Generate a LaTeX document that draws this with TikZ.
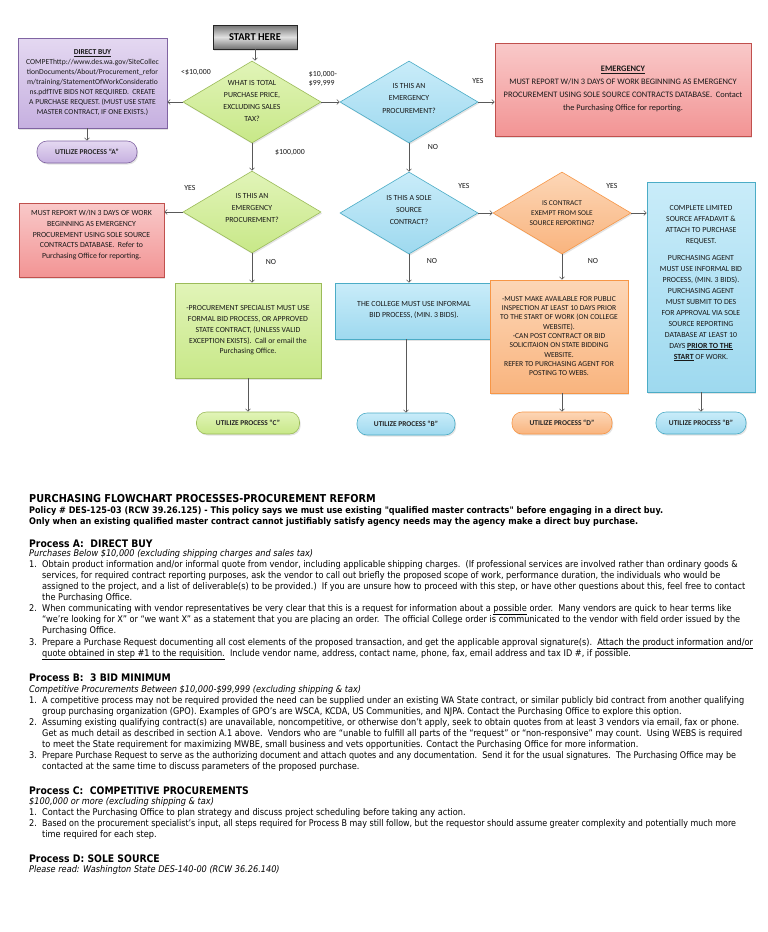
\documentclass[tikz,border=0pt]{standalone}
\usepackage{fontspec}
\setmainfont{Carlito}
\newfontfamily\bodyf[FakeStretch=0.89]{DejaVu Sans}
\usetikzlibrary{shapes.geometric,arrows.meta,shadows}
\definecolor{gB}{HTML}{9BBB59}\definecolor{gT}{HTML}{E1F4B8}\definecolor{gD}{HTML}{C8E888}
\definecolor{bB}{HTML}{4BACC6}\definecolor{bT}{HTML}{C9ECF9}\definecolor{bD}{HTML}{9ED9EF}
\definecolor{oB}{HTML}{F79646}\definecolor{oT}{HTML}{FCD6B6}\definecolor{oD}{HTML}{F9B47E}
\definecolor{rB}{HTML}{C0504D}\definecolor{rT}{HTML}{F9C9C9}\definecolor{rD}{HTML}{F29494}
\definecolor{pB}{HTML}{8064A2}\definecolor{pT}{HTML}{E4D8F1}\definecolor{pD}{HTML}{C6B0E0}
\newcommand\itm[1]{\makebox[13pt][l]{#1}}
\begin{document}
\begin{tikzpicture}[x=1pt,y=-1pt,
  fct/.style={align=center, inner sep=0pt, text=black!90, font=\fontsize{7.8}{10.7}\selectfont},
  shp/.style={draw, line width=0.6pt, inner sep=0pt, drop shadow={opacity=0.22,shadow xshift=1.2pt,shadow yshift=-1.5pt}},
  grn/.style={shp, draw=gB, top color=gT, bottom color=gD},
  blu/.style={shp, draw=bB, top color=bT, bottom color=bD},
  org/.style={shp, draw=oB, top color=oT, bottom color=oD},
  red/.style={shp, draw=rB, top color=rT, bottom color=rD},
  pur/.style={shp, draw=pB, top color=pT, bottom color=pD},
  dia/.style={diamond, minimum width=138pt, minimum height=82pt},
  pill/.style={rounded corners=10pt, minimum height=22pt, font=\bfseries\fontsize{7.4}{8}\selectfont, text=black!85},
  arr/.style={draw=black!65, line width=0.6pt, -{Straight Barb[length=2.5pt,width=5pt]}},
  lbl/.style={inner sep=0pt, text=black!90, font=\fontsize{7.8}{9.5}\selectfont, align=left},
  bt/.style={anchor=base west, inner sep=0pt, text=black, font=\bodyf\fontsize{9.2}{10}\selectfont},
  bb/.style={bt, font=\bodyf\bfseries\fontsize{9.1}{10}\selectfont},
  bh/.style={bt, font=\bodyf\bfseries\fontsize{10.4}{12}\selectfont},
  bti/.style={bt, font=\bodyf\bfseries\fontsize{10.9}{12}\selectfont},
  bi/.style={bt, font=\bodyf\itshape\fontsize{9.2}{10}\selectfont}
]
\useasboundingbox[fill=white] (0,0) rectangle (768,932);

% ---------- shapes ----------
\node[shp, draw=black!85, top color=black!55, bottom color=black!55, middle color=black!12,
      minimum width=84pt, minimum height=24pt, font=\bfseries\fontsize{10.5}{12}\selectfont] (start) at (255,37) {START HERE};

\node[grn, dia] (d1) at (252,102) {};
\node[fct, font=\fontsize{7.8}{12}\selectfont] (d1t) at (252,101) {WHAT IS TOTAL\\PURCHASE PRICE,\\EXCLUDING SALES\\TAX?};

\node[blu, dia] (d2) at (409,102) {};
\node[fct, font=\fontsize{7.8}{12.5}\selectfont] (d2t) at (409,98) {IS THIS AN\\EMERGENCY\\PROCUREMENT?};

\node[red, minimum width=256pt, minimum height=93pt] (emerg) at (623,89.5) {};
\node[fct, font=\fontsize{8.4}{13}\selectfont] (emergt) at (623,89) {\underline{\textbf{EMERGENCY}}\\MUST REPORT W/IN 3 DAYS OF WORK BEGINNING AS EMERGENCY\\PROCUREMENT USING SOLE SOURCE CONTRACTS DATABASE.\ \ Contact\\the Purchasing Office for reporting.};

\node[pur, minimum width=149pt, minimum height=90pt] (direct) at (92.5,83) {};
\node[fct, font=\fontsize{7.6}{10}\selectfont] (directt) at (92.5,82.5) {\underline{\textbf{DIRECT BUY}}\\COMPEThttp://www.des.wa.gov/SiteCollec\\tionDocuments/About/Procurement\_refor\\m/training/StatementOfWorkConsideratio\\ns.pdfTIVE BIDS NOT REQUIRED.\ \ CREATE\\A PURCHASE REQUEST. (MUST USE STATE\\MASTER CONTRACT, IF ONE EXISTS.)};

\node[pur, pill, minimum width=100pt] (pillA) at (87,152) {UTILIZE PROCESS “A”};

\node[grn, dia] (d3) at (252,212) {};
\node[fct, font=\fontsize{7.8}{12.3}\selectfont] (d3t) at (252,208) {IS THIS AN\\EMERGENCY\\PROCUREMENT?};

\node[red, minimum width=145pt, minimum height=74pt] (red2) at (91.5,240) {};
\node[fct] (red2t) at (91.5,235) {MUST REPORT W/IN 3 DAYS OF WORK\\BEGINNING AS EMERGENCY\\PROCUREMENT USING SOLE SOURCE\\CONTRACTS DATABASE.\ \ Refer to\\Purchasing Office for reporting.};

\node[grn, minimum width=146pt, minimum height=95pt] (grect) at (248,330.5) {};
\node[fct] (grectt) at (248,330.5) {-PROCUREMENT SPECIALIST MUST USE\\FORMAL BID PROCESS, OR APPROVED\\STATE CONTRACT, (UNLESS VALID\\EXCEPTION EXISTS).\ \ Call or email the\\Purchasing Office.};

\node[grn, pill, minimum width=103pt] (pillC) at (248,423) {UTILIZE PROCESS “C”};

\node[blu, dia] (d4) at (409,213) {};
\node[fct, font=\fontsize{7.8}{12}\selectfont] (d4t) at (409,210) {IS THIS A SOLE\\SOURCE\\CONTRACT?};

\node[blu, minimum width=158pt, minimum height=56pt] (brect) at (414,311) {};
\node[fct] (brectt) at (414,310) {THE COLLEGE MUST USE INFORMAL\\BID PROCESS, (MIN. 3 BIDS).};

\node[blu, pill, minimum width=98pt] (pillB) at (406,424) {UTILIZE PROCESS “B”};

\node[org, dia] (d5) at (562,213) {};
\node[fct, font=\fontsize{7.4}{10}\selectfont] (d5t) at (562,213) {IS CONTRACT\\EXEMPT FROM SOLE\\SOURCE REPORTING?};

\node[org, minimum width=138pt, minimum height=113pt] (orect) at (559,336.5) {};
\node[fct, font=\fontsize{7.6}{9.3}\selectfont] (orectt) at (559,336) {-MUST MAKE AVAILABLE FOR PUBLIC\\INSPECTION AT LEAST 10 DAYS PRIOR\\TO THE START OF WORK (ON COLLEGE\\WEBSITE).\\-CAN POST CONTRACT OR BID\\SOLICITAION ON STATE BIDDING\\WEBSITE.\\REFER TO PURCHASING AGENT FOR\\POSTING TO WEBS.};

\node[org, pill, minimum width=100pt] (pillD) at (562,423) {UTILIZE PROCESS “D”};

\node[blu, minimum width=108pt, minimum height=210pt] (rrect) at (701,287) {};
\node[fct, font=\fontsize{7.8}{11}\selectfont] (rrectt) at (701,283) {COMPLETE LIMITED\\SOURCE AFFADAVIT \&\\ATTACH TO PURCHASE\\REQUEST.\\[6pt]PURCHASING AGENT\\MUST USE INFORMAL BID\\PROCESS, (MIN. 3 BIDS).\\PURCHASING AGENT\\MUST SUBMIT TO DES\\FOR APPROVAL VIA SOLE\\SOURCE REPORTING\\DATABASE AT LEAST 10\\DAYS \underline{\textbf{PRIOR TO THE}}\\\underline{\textbf{START}} OF WORK.};

\node[blu, pill, minimum width=90pt] (pillB2) at (701,423) {UTILIZE PROCESS “B”};

% ---------- connectors ----------
\draw[arr] (start.south) -- (start.south |- d1.north);
\draw[arr] (d1.west) -- (d1.west -| direct.east);
\draw[arr] (d1.east) -- (d2.west);
\draw[arr] (d2.east) -- (d2.east -| emerg.west);
\draw[arr] (pillA.north |- direct.south) -- (pillA.north);
\draw[arr] (d1.south) -- (d3.north);
\draw[arr] (d2.south) -- (d4.north);
\draw[arr] (d3.west) -- (d3.west -| red2.east);
\draw[arr] (d3.south) -- (d3.south |- grect.north);
\draw[arr] (pillC.north |- grect.south) -- (pillC.north);
\draw[arr] (d4.south) -- (d4.south |- brect.north);
\draw[arr] (pillB.north |- brect.south) -- (pillB.north);
\draw[arr] (d4.east) -- (d5.west);
\draw[arr] (d5.south) -- (d5.south |- orect.north);
\draw[arr] (pillD.north |- orect.south) -- (pillD.north);
\draw[arr] (d5.east) -- (d5.east -| rrect.west);
\draw[arr] (pillB2.north |- rrect.south) -- (pillB2.north);

% ---------- labels ----------
\node[lbl] (l1) at (196,72) {<\$10,000};
\node[lbl] (l2) at (323,79) {\$10,000-\\\$99,999};
\node[lbl] (l3) at (290,152) {\$100,000};
\node[lbl] (l4) at (478,81) {YES};
\node[lbl] (l5) at (433,147) {NO};
\node[lbl] (l6) at (190,188) {YES};
\node[lbl] (l7) at (271,262) {NO};
\node[lbl] (l8) at (464,186) {YES};
\node[lbl] (l9) at (432,261) {NO};
\node[lbl] (l10) at (612,186) {YES};
\node[lbl] (l11) at (593,261) {NO};

% ---------- body text ----------
\node[bti] (t1) at (29,502) {PURCHASING FLOWCHART PROCESSES-PROCUREMENT REFORM};
\node[bb] (t2) at (29,513) {Policy \# DES-125-03 (RCW 39.26.125) - This policy says we must use existing "qualified master contracts" before engaging in a direct buy.};
\node[bb] (t3) at (29,524) {Only when an existing qualified master contract cannot justifiably satisfy agency needs may the agency make a direct buy purchase.};
\node[bh] (t4) at (29,547) {Process A:\ \ DIRECT BUY};
\node[bi] (t5) at (29,556) {Purchases Below \$10,000 (excluding shipping charges and sales tax)};
\node[bt] (t6) at (29,567) {\itm{1.}Obtain product information and/or informal quote from vendor, including applicable shipping charges.\ \ (If professional services are involved rather than ordinary goods \&};
\node[bt] (t7) at (42,578) {services, for required contract reporting purposes, ask the vendor to call out briefly the proposed scope of work, performance duration, the individuals who would be};
\node[bt] (t8) at (42,589) {assigned to the project, and a list of deliverable(s) to be provided.)\ \ If you are unsure how to proceed with this step, or have other questions about this, feel free to contact};
\node[bt] (t9) at (42,600) {the Purchasing Office.};
\node[bt] (t10) at (29,611) {\itm{2.}When communicating with vendor representatives be very clear that this is a request for information about a \underline{possible} order.\ \ Many vendors are quick to hear terms like};
\node[bt] (t11) at (42,622) {“we’re looking for X” or “we want X” as a statement that you are placing an order.\ \ The official College order is communicated to the vendor with field order issued by the};
\node[bt] (t12) at (42,633) {Purchasing Office.};
\node[bt] (t13) at (29,645) {\itm{3.}Prepare a Purchase Request documenting all cost elements of the proposed transaction, and get the applicable approval signature(s).\ \ \underline{Attach the product information and/or}};
\node[bt] (t14) at (42,656) {\underline{quote obtained in step \#1 to the requisition.}\ \ Include vendor name, address, contact name, phone, fax, email address and tax ID \#, if possible.};

\node[bh] (t15) at (29,681) {Process B:\ \ 3 BID MINIMUM};
\node[bi] (t16) at (29,692) {Competitive Procurements Between \$10,000-\$99,999 (excluding shipping \& tax)};
\node[bt] (t17) at (29,703) {\itm{1.}A competitive process may not be required provided the need can be supplied under an existing WA State contract, or similar publicly bid contract from another qualifying};
\node[bt] (t18) at (42,714) {group purchasing organization (GPO). Examples of GPO’s are WSCA, KCDA, US Communities, and NJPA. Contact the Purchasing Office to explore this option.};
\node[bt] (t19) at (29,725) {\itm{2.}Assuming existing qualifying contract(s) are unavailable, noncompetitive, or otherwise don’t apply, seek to obtain quotes from at least 3 vendors via email, fax or phone.};
\node[bt] (t20) at (42,736) {Get as much detail as described in section A.1 above.\ \ Vendors who are “unable to fulfill all parts of the “request” or “non-responsive” may count.\ \ Using WEBS is required};
\node[bt] (t21) at (42,747) {to meet the State requirement for maximizing MWBE, small business and vets opportunities. Contact the Purchasing Office for more information.};
\node[bt] (t22) at (29,758) {\itm{3.}\scalebox{0.98}[1]{Prepare Purchase Request to serve as the authorizing document and attach quotes and any documentation.\ \ Send it for the usual signatures.\ \ The Purchasing Office may be}};
\node[bt] (t23) at (42,769) {contacted at the same time to discuss parameters of the proposed purchase.};

\node[bh] (t24) at (29,794) {Process C:\ \ COMPETITIVE PROCUREMENTS};
\node[bi] (t25) at (29,804) {\$100,000 or more (excluding shipping \& tax)};
\node[bt] (t26) at (29,815) {\itm{1.}Contact the Purchasing Office to plan strategy and discuss project scheduling before taking any action.};
\node[bt] (t27) at (29,826) {\itm{2.}\scalebox{0.975}[1]{Based on the procurement specialist’s input, all steps required for Process B may still follow, but the requestor should assume greater complexity and potentially much more}};
\node[bt] (t28) at (42,837) {time required for each step.};

\node[bh] (t29) at (29,862) {Process D: SOLE SOURCE};
\node[bi] (t30) at (29,872) {Please read: Washington State DES-140-00 (RCW 36.26.140)};
\end{tikzpicture}
\end{document}
